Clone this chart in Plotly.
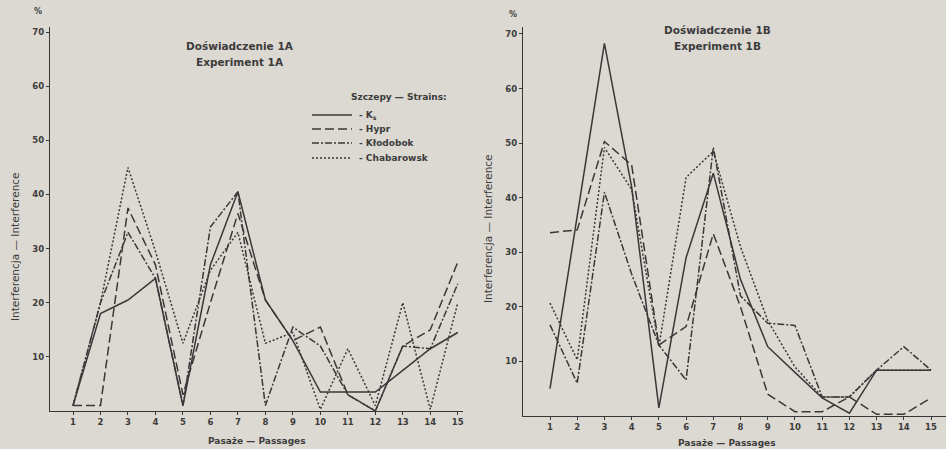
import plotly.graph_objects as go

# ---------------- data ----------------
passages = list(range(1, 16))
strain_names = ["K<sub>s</sub>", "Hypr", "Kłodobok", "Chabarowsk"]

# Experiment 1A (% interference)
ks_1a = [1, 18, 20.5, 24.5, 1, 27, 40.5, 20.5, 13, 3.5, 3.5, 3.5, 7.5, 11.5, 14.5]
hypr_1a = [1, 1, 37.5, 27, 3, 20, 36.5, 20.5, 13, 15.5, 3, 0, 12, 15, 27.5]
klodobok_1a = [1, 20, 33, 24.5, 1, 34, 40.5, 1, 15.5, 12, 3, 0, 12, 11.5, 23.5]
chabarowsk_1a = [1, 20, 45, 29.5, 12.5, 26, 33, 12.5, 14.5, 0.3, 11.5, 1, 20, 0.3, 20]

# Experiment 1B (% interference)
ks_1b = [5, 36.5, 68.3, 42, 1.5, 29, 44.5, 25, 12.7, 8, 3.3, 0.5, 8.4, 8.4, 8.4]
hypr_1b = [33.6, 34.1, 50.3, 46, 13, 16.4, 33.4, 20, 4, 0.8, 0.8, 3.5, 0.3, 0.3, 3.3]
klodobok_1b = [16.7, 6, 41, 26, 13, 6.6, 49.2, 22, 17, 16.6, 3.5, 3.5, 8.4, 12.7, 8.4]
chabarowsk_1b = [20.7, 10.3, 49.2, 41.5, 12.7, 43.7, 48.5, 31, 17.5, 9, 3.5, 3.5, 8.4, 8.4, 8.4]

y_ticks = [10, 20, 30, 40, 50, 60, 70]
titles_1a = ["Doświadczenie 1A", "Experiment 1A"]
titles_1b = ["Doświadczenie 1B", "Experiment 1B"]
x_title = "Pasaże — Passages"
y_title = "Interferencja — Interference"
legend_title = "Szczepy — Strains:"

# ---------------- style ----------------
INK = "#383838"
TXT = "#3c3c3c"
BG = "#dcd9d2"
FONT = "DejaVu Sans"
dashes = ["solid", "9px,4px", "7px,2px,2px,2px", "2px,2px"]
W, H = 946, 449

fig = go.Figure()

series_1a = [ks_1a, hypr_1a, klodobok_1a, chabarowsk_1a]
series_1b = [ks_1b, hypr_1b, klodobok_1b, chabarowsk_1b]

for name, vals, dash in zip(strain_names, series_1a, dashes):
    fig.add_trace(go.Scatter(
        x=passages, y=vals, mode="lines", name=name,
        line=dict(color=INK, width=1.5, dash=dash),
        xaxis="x", yaxis="y", showlegend=False, hoverinfo="skip"))

for name, vals, dash in zip(strain_names, series_1b, dashes):
    fig.add_trace(go.Scatter(
        x=passages, y=vals, mode="lines", name=name,
        line=dict(color=INK, width=1.5, dash=dash),
        xaxis="x2", yaxis="y2", showlegend=False, hoverinfo="skip"))

axis_common = dict(showgrid=False, zeroline=False, showline=True,
                   linecolor=INK, linewidth=1.4, ticks="outside",
                   ticklen=3, tickcolor=INK,
                   tickfont=dict(family=FONT, size=8.5, color=TXT, weight="bold"))

fig.update_layout(
    width=W, height=H,
    margin=dict(l=0, r=0, t=0, b=0),
    paper_bgcolor=BG, plot_bgcolor=BG,
    font=dict(family=FONT, color=TXT),
    showlegend=False,
    xaxis=dict(domain=[50 / W, 463 / W], range=[0.163, 15.19],
               tickvals=passages, anchor="y", **axis_common),
    yaxis=dict(domain=[1 - 411 / H, 1 - 26.6 / H], range=[0, 71],
               tickvals=y_ticks, anchor="x", **axis_common),
    xaxis2=dict(domain=[523 / W, 1.0], range=[0.008, 15.55],
                tickvals=passages, anchor="y2", **axis_common),
    yaxis2=dict(domain=[1 - 416 / H, 1 - 26.9 / H], range=[0, 71.3],
                tickvals=y_ticks, anchor="x2", **axis_common),
)

ann = []
def txt(x, y, s, size=10, angle=0, bold=False, xanchor="center"):
    ann.append(dict(x=x / W, y=1 - y / H, xref="paper", yref="paper",
                    text=s, showarrow=False,
                    textangle=angle, xanchor=xanchor, yanchor="middle",
                    font=dict(family=FONT, size=size, color=TXT,
                              weight="bold" if bold else "normal")))

txt(240, 46, titles_1a[0], 10.5, bold=True)
txt(240, 62, titles_1a[1], 10.5, bold=True)
txt(717, 30, titles_1b[0], 10.5, bold=True)
txt(717, 46, titles_1b[1], 10.5, bold=True)
txt(38, 12, "%", 8, bold=True)
txt(513, 15, "%", 8, bold=True)
txt(15, 247, y_title, 10.5, angle=-90)
txt(488, 228, y_title, 10.5, angle=-90)
txt(257, 441, x_title, 9, bold=True)
txt(727, 443, x_title, 9, bold=True)

# legend (drawn as layout decoration in the left panel)
txt(349, 97, legend_title, 9, bold=True, xanchor="left")
shapes = []
leg_y = [115, 129, 143, 158]
for name, dash, yy in zip(strain_names, dashes, leg_y):
    shapes.append(dict(type="line", xref="paper", yref="paper",
                       x0=312 / W, x1=352 / W, y0=1 - yy / H, y1=1 - yy / H,
                       line=dict(color=INK, width=1.5, dash=dash)))
    txt(357, yy, "- " + name, 9, bold=True, xanchor="left")

fig.update_layout(annotations=ann, shapes=shapes)

fig.write_html("out.html",
               config={"displayModeBar": False},
               post_script="document.body.style.margin='0';"
                           "document.body.style.overflow='hidden';"
                           "document.body.style.background='%s';" % BG)
